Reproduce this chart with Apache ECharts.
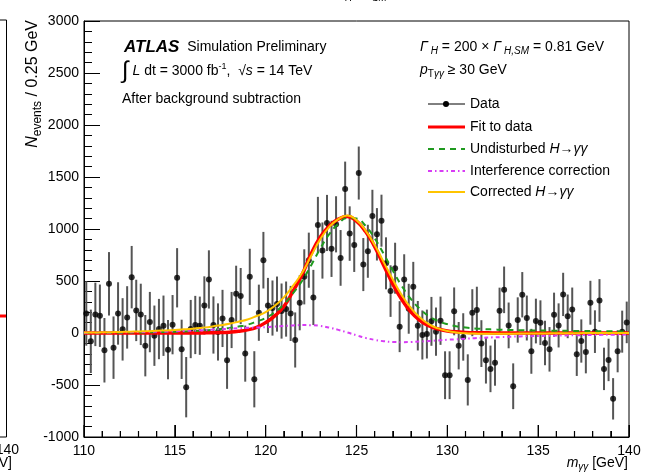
<!DOCTYPE html>
<html>
<head>
<meta charset="utf-8">
<script src="https://cdn.jsdelivr.net/npm/echarts@6/dist/echarts.min.js"></script>
<style>
  html, body { margin: 0; background: #fff; }
  #chart { width: 652px; height: 476px; }
</style>
</head>
<body>
<div id="chart"></div>
<script>
// diphoton mass spectrum after background subtraction, 0.25 GeV bins from 110 GeV
const massMin = 110;
const binWidth = 0.25;

const counts = [
  188, -80, 179, 166, -166, 473, -141, 188, 35, 150, 537, 217, 179, -122, 105, -26, 38, 70, -160, 80,
  531, -157, -521, 38, 77, 70, 265, 515, 77, 10, 140, -262, 125, 377, 355, -198, 540, -445, 195, 700,
  265, 240, 278, 211, 230, 188, -67, 291, 540, 700, 342, 1039, 793, 1058, 809, 1045, 722, 1384, 956, 847,
  1538, 658, 786, 1125, 949, 1080, 670, 403, 623, 61, 515, 233, 444, 70, -19, -10, 112, 13, 118, -406,
  -406, 208, -122, -38, -451, 195, 220, -102, -262, -345, -285, 214, 415, 73, -512, 125, 368, 144, -176, 115,
  99, -96, -157, 176, 73, 371, 160, 227, -205, -77, -182, 291, 13, 313, -345, -259, -633, -176, 13, 102
];

const errors = [
  310, 305, 305, 300, 310, 305, 300, 300, 300, 300, 300, 295, 295, 295, 290, 290, 290, 290, 285, 285,
  285, 285, 290, 280, 280, 280, 280, 280, 275, 275, 275, 275, 270, 270, 270, 270, 270, 270, 270, 272,
  265, 265, 265, 265, 265, 265, 265, 265, 265, 265, 265, 270, 270, 270, 270, 270, 268, 264, 262, 260,
  255, 255, 255, 252, 252, 250, 250, 248, 245, 245, 242, 240, 240, 238, 236, 235, 235, 232, 232, 230,
  230, 230, 228, 228, 246, 226, 225, 225, 224, 224, 222, 222, 224, 220, 220, 218, 218, 216, 216, 215,
  215, 214, 214, 212, 212, 208, 210, 210, 208, 208, 206, 211, 205, 205, 204, 204, 199, 202, 202, 200
];

// curves every 0.5 GeV
const curveMass = [
  110, 110.5, 111, 111.5, 112, 112.5, 113, 113.5, 114, 114.5,
  115, 115.5, 116, 116.5, 117, 117.5, 118, 118.5, 119, 119.5,
  120, 120.5, 121, 121.5, 122, 122.5, 123, 123.5, 124, 124.5,
  125, 125.5, 126, 126.5, 127, 127.5, 128, 128.5, 129, 129.5,
  130, 130.5, 131, 131.5, 132, 132.5, 133, 133.5, 134, 134.5,
  135, 135.5, 136, 136.5, 137, 137.5, 138, 138.5, 139, 139.5, 140
];
const fitCurve = [
  0, 0, 0, 0, 0, 0, 0, 0, 0, 0, 0, 0, 0, 1, 2, 4, 8, 16, 30, 55,
  100, 165, 255, 400, 560, 760, 920, 1030, 1095, 1120, 1075, 975, 830, 650, 470, 320, 200, 120, 68, 38,
  20, 11, 6, 3, 2, 1, 0, 0, 0, 0, 0, 0, 0, 0, 0, 0, 0, 0, 0, 0, 0
];
const undisturbed = [
  1, 1, 2, 2, 3, 4, 5, 6, 8, 10, 12, 15, 19, 24, 30, 38, 48, 62, 80, 110,
  145, 200, 275, 380, 500, 650, 810, 950, 1050, 1105, 1100, 1030, 910, 760, 600, 450, 325, 230, 160, 115,
  85, 65, 52, 44, 38, 34, 31, 29, 27, 25, 24, 23, 22, 21, 20, 19, 18, 17, 16, 15, 15
];
const interference = [
  3, 4, 5, 6, 7, 8, 10, 11, 13, 15, 17, 20, 23, 27, 31, 36, 41, 46, 50, 53,
  56, 62, 68, 73, 76, 75, 68, 52, 30, 5, -22, -47, -66, -79, -86, -88, -86, -82, -77, -71,
  -65, -60, -55, -50, -46, -42, -39, -36, -33, -31, -29, -27, -25, -23, -22, -20, -19, -18, -17, -16, -15
];
const corrected = [
  4, 5, 7, 8, 10, 12, 15, 17, 21, 25, 29, 35, 42, 51, 61, 74, 89, 108, 130, 163,
  201, 262, 343, 453, 576, 740, 900, 1020, 1095, 1130, 1085, 985, 845, 681, 514, 362, 239, 148, 83, 44,
  20, 5, -3, -6, -8, -8, -8, -7, -6, -6, -5, -4, -3, -2, -2, -1, -1, -1, -1, -1, 0
];

const FONT = '"Liberation Sans", Arial, Helvetica, sans-serif';

const points = counts.map((v, i) => [massMin + (i + 0.5) * binWidth, v]);
const bars = counts.map((v, i) => [massMin + (i + 0.5) * binWidth, v - errors[i], v + errors[i]]);
const toLine = arr => arr.map((v, i) => [curveMass[i], v]);

const rich = {
  r: { font: '14px ' + FONT, fill: '#000' },
  i: { font: 'italic 14px ' + FONT, fill: '#000' },
  b: { font: 'bold italic 17px ' + FONT, fill: '#000' },
  sub: { font: 'italic 10px ' + FONT, fill: '#000', padding: [9, 0, 0, 0] },
  subr: { font: '10px ' + FONT, fill: '#000', padding: [9, 0, 0, 0] },
  sup: { font: '9px ' + FONT, fill: '#000', padding: [0, 0, 9, 0] },
  big: { font: '24px ' + FONT, fill: '#000' },
  tr: { font: '16px ' + FONT, fill: '#000' },
  ti: { font: 'italic 16px ' + FONT, fill: '#000' },
  tsub: { font: '12px ' + FONT, fill: '#000', padding: [10, 0, 0, 0] }
};

function label(x, y, text, align) {
  return {
    type: 'text', x: x, y: y, z: 100,
    style: { text: text, rich: rich, font: '14px ' + FONT, fill: '#000', align: align || 'left', verticalAlign: 'middle' }
  };
}

function legendLine(y, color, width, dash) {
  return {
    type: 'line', z: 100,
    shape: { x1: 428, y1: y, x2: 465, y2: y },
    style: { stroke: color, lineWidth: width, lineDash: dash || null }
  };
}

const legendY = [104, 127, 149, 171, 192];

const graphics = [
  // neighbouring panel edge
  { type: 'polyline', shape: { points: [[0, 20], [6.5, 20], [6.5, 437], [0, 437]] }, style: { stroke: '#000', lineWidth: 1, fill: null } },
  { type: 'line', shape: { x1: 0, y1: 316, x2: 6, y2: 316 }, style: { stroke: '#ff0000', lineWidth: 3 } },
  label(19, 450, '{r|140}', 'right'),
  label(12, 463, '{r|eV]}', 'right'),
  label(362, -6, '{i|Γ}{sub|H}{r| / }{i|Γ}{sub|SM}', 'center'),

  label(124, 47, '{b|ATLAS}{r|  Simulation Preliminary}'),
  label(122, 71, '{big|∫}{r| }{i|L}{r| dt = 3000 fb}{sup|-1}{r|,  √}{i|s}{r| = 14 TeV}'),
  label(122, 99, '{r|After background subtraction}'),
  label(420, 47, '{i|Γ}{sub| H}{r| = 200 × }{i|Γ}{sub| H,SM}{r| = 0.81 GeV}'),
  label(420, 70, '{i|p}{subr|T}{sub|γγ}{r| ≥ 30 GeV}'),

  legendLine(legendY[0], '#000', 1),
  { type: 'circle', z: 101, shape: { cx: 446, cy: legendY[0], r: 3 }, style: { fill: '#000' } },
  legendLine(legendY[1], '#ff0000', 3),
  legendLine(legendY[2], '#1f9a1f', 2, [6, 5]),
  legendLine(legendY[3], '#d83cf5', 2, [4, 3, 1.5, 3]),
  legendLine(legendY[4], '#ffc400', 2),
  label(470, legendY[0], '{r|Data}'),
  label(470, legendY[1], '{r|Fit to data}'),
  label(470, legendY[2], '{r|Undisturbed }{i|H}{r|→}{i|γγ}'),
  label(470, legendY[3], '{r|Interference correction}'),
  label(470, legendY[4], '{r|Corrected }{i|H}{r|→}{i|γγ}'),

  // axis titles
  {
    type: 'text', x: 33, y: 20, rotation: Math.PI / 2, z: 100,
    style: { text: '{ti|N}{tsub|events}{tr| / 0.25 GeV}', rich: rich, align: 'right', verticalAlign: 'middle' }
  },
  label(628, 463, '{i|m}{sub|γγ}{r| [GeV]}', 'right')
];

const chart = echarts.init(document.getElementById('chart'));

const option = {
  animation: false,
  backgroundColor: '#fff',
  grid: { left: 84, right: 23, top: 21, bottom: 39, show: true, borderColor: '#000', borderWidth: 1, backgroundColor: 'transparent' },
  xAxis: {
    type: 'value', min: 110, max: 140, interval: 5, position: 'bottom',
    axisLine: { show: true, onZero: false, lineStyle: { color: '#000', width: 1 } },
    axisTick: { show: true, inside: true, length: 12, lineStyle: { color: '#000', width: 1 } },
    minorTick: { show: true, splitNumber: 5, length: 6, lineStyle: { color: '#000', width: 1 } },
    splitLine: { show: false },
    axisLabel: { color: '#000', fontSize: 14, fontFamily: FONT, margin: 7 }
  },
  yAxis: {
    type: 'value', min: -1000, max: 3000, interval: 500, position: 'left',
    axisLine: { show: true, onZero: false, lineStyle: { color: '#000', width: 1 } },
    axisTick: { show: true, inside: true, length: 16, lineStyle: { color: '#000', width: 1 } },
    minorTick: { show: true, splitNumber: 5, length: 8, lineStyle: { color: '#000', width: 1 } },
    splitLine: { show: false },
    axisLabel: { color: '#000', fontSize: 14, fontFamily: FONT, margin: 5, formatter: v => String(v) }
  },
  graphic: graphics,
  series: [
    {
      type: 'custom', name: 'errors', z: 1,
      encode: { x: 0, y: [1, 2] },
      renderItem: function (params, api) {
        const x = api.value(0);
        const lo = api.coord([x, api.value(1)]);
        const hi = api.coord([x, api.value(2)]);
        return { type: 'line', shape: { x1: lo[0], y1: lo[1], x2: hi[0], y2: hi[1] }, style: { stroke: '#555', lineWidth: 2 } };
      },
      data: bars
    },
    { type: 'scatter', name: 'Data', z: 2, symbol: 'circle', symbolSize: 6, itemStyle: { color: '#000' }, data: points },
    { type: 'line', name: 'Fit to data', z: 3, smooth: true, showSymbol: false, lineStyle: { color: '#ff0000', width: 3.5 }, data: toLine(fitCurve) },
    { type: 'line', name: 'Undisturbed', z: 4, smooth: true, showSymbol: false, lineStyle: { color: '#1f9a1f', width: 2, type: [6, 5] }, data: toLine(undisturbed) },
    { type: 'line', name: 'Interference correction', z: 5, smooth: true, showSymbol: false, lineStyle: { color: '#d83cf5', width: 2, type: [4, 3, 1.5, 3] }, data: toLine(interference) },
    { type: 'line', name: 'Corrected', z: 6, smooth: true, showSymbol: false, lineStyle: { color: '#ffc400', width: 2 }, data: toLine(corrected) }
  ]
};

chart.setOption(option);

// bottom axis ticks (1 GeV minor, 5 GeV major), placed through the axis scale
const xTicks = [];
for (let m = 110; m <= 140; m += 1) {
  const p = chart.convertToPixel({ gridIndex: 0 }, [m, -1000]);
  const len = m % 5 === 0 ? 12 : 6;
  xTicks.push({ type: 'line', z: 150, shape: { x1: p[0], y1: p[1], x2: p[0], y2: p[1] - len }, style: { stroke: '#000', lineWidth: 1.2 } });
}
chart.setOption({ graphic: graphics.concat(xTicks) });
</script>
</body>
</html>
